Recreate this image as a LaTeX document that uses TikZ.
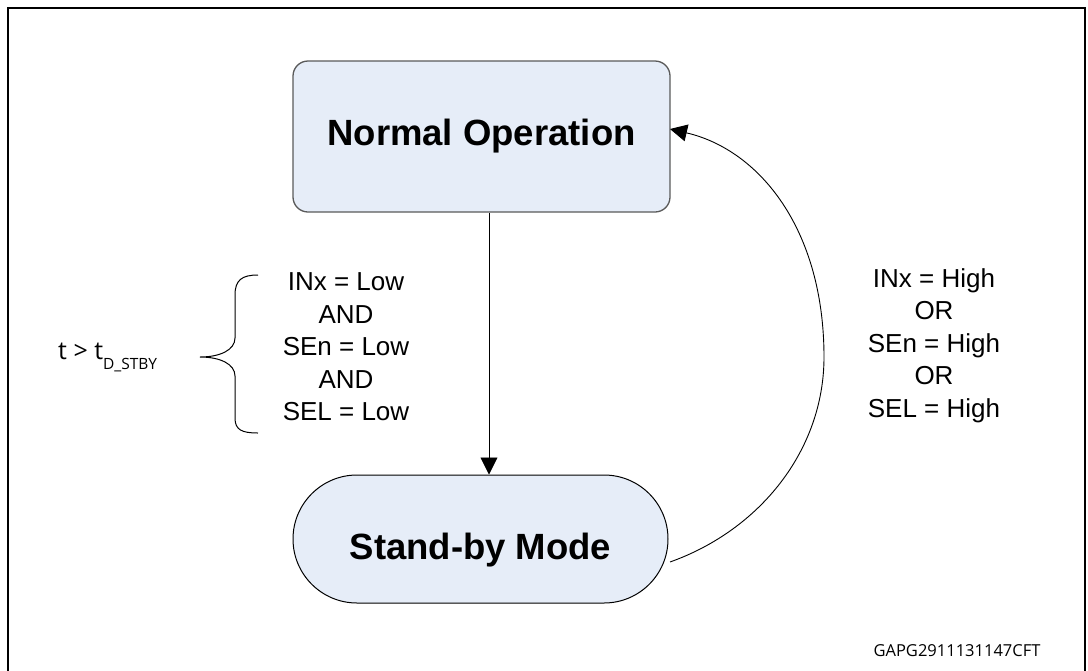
\documentclass[tikz,border=0pt]{standalone}
\usepackage{fontspec}
\setmainfont{Liberation Sans}
\newfontfamily\osans{Open Sans}
\usetikzlibrary{shapes.misc,arrows.meta}
\definecolor{boxfill}{HTML}{E6EDF8}
\definecolor{boxline}{HTML}{5A5A5A}
\tikzset{
  statebox/.style={draw=boxline, line width=1.3pt, fill=boxfill, rounded corners=15pt,
    minimum width=377pt, minimum height=151pt, inner sep=0pt,
    font=\fontsize{36.5}{40}\selectfont\bfseries},
  stadium/.style={draw=black, line width=1pt, fill=boxfill, rounded rectangle,
    minimum width=375pt, minimum height=128pt, inner sep=0pt},
  bigtext/.style={font=\fontsize{36.5}{40}\selectfont\bfseries, inner sep=0pt},
  cond/.style={align=center, inner sep=0pt, font=\fontsize{26}{32.5}\selectfont},
  conn/.style={draw=black, line width=0.9pt, -{Triangle[width=17pt,length=17pt]}},
  framestyle/.style={line width=2.6pt, draw=black},
  bracestyle/.style={draw=black, line width=1pt}
}
\begin{document}
\begin{tikzpicture}[x=1pt,y=-1pt]
\useasboundingbox (0,0) rectangle (1088,670);
% frame
\draw[framestyle] (8,672) -- (8,8) -- (1085,8) -- (1085,672);
% states
\node[statebox] (no) at (481.5,136.5) {Normal Operation};
\node[stadium] (sb) at (480.5,539) {};
\node[bigtext] (sbt) at (480.5,550.5) {Stand-by Mode};
% transitions
\coordinate (ax) at (489,0);
\draw[conn] (no.south -| ax) -- (sb.north -| ax);
\coordinate (cs) at (670,562);
\coordinate (cm) at (824,357);
\coordinate (ce) at (670,129);
\draw[conn] (cs) .. controls (760,530) and (824,450) .. (cm)
  .. controls (824,230) and (760,150) .. (ce);
% conditions
\node[cond] (lc) at (346,347) {INx = Low\\AND\\SEn = Low\\AND\\SEL = Low};
\node[cond] (rc) at (934,345.5) {INx = High\\OR\\SEn = High\\OR\\SEL = High};
% brace
\coordinate (bt) at (258,275);
\coordinate (bb) at (258,433);
\coordinate (btip) at (200,357);
\draw[bracestyle] (bt) .. controls (242,275) and (235,280) .. (235,295) -- (235,338)
  .. controls (235,350) and (220,357) .. (btip)
  .. controls (220,357) and (235,364) .. (235,376) -- (235,418)
  .. controls (235,430) and (242,433) .. (bb);
\node[anchor=base west, inner sep=0pt, font=\osans\fontsize{25}{25}\selectfont] (tl) at (58,359)
  {t > t\raisebox{-10pt}{\fontsize{15.5}{15.5}\selectfont D\_STBY}};
% id
\node[anchor=base, inner sep=0pt, font=\osans\fontsize{16.5}{16.5}\selectfont] (id) at (957,656) {GAPG2911131147CFT};
\end{tikzpicture}
\end{document}
